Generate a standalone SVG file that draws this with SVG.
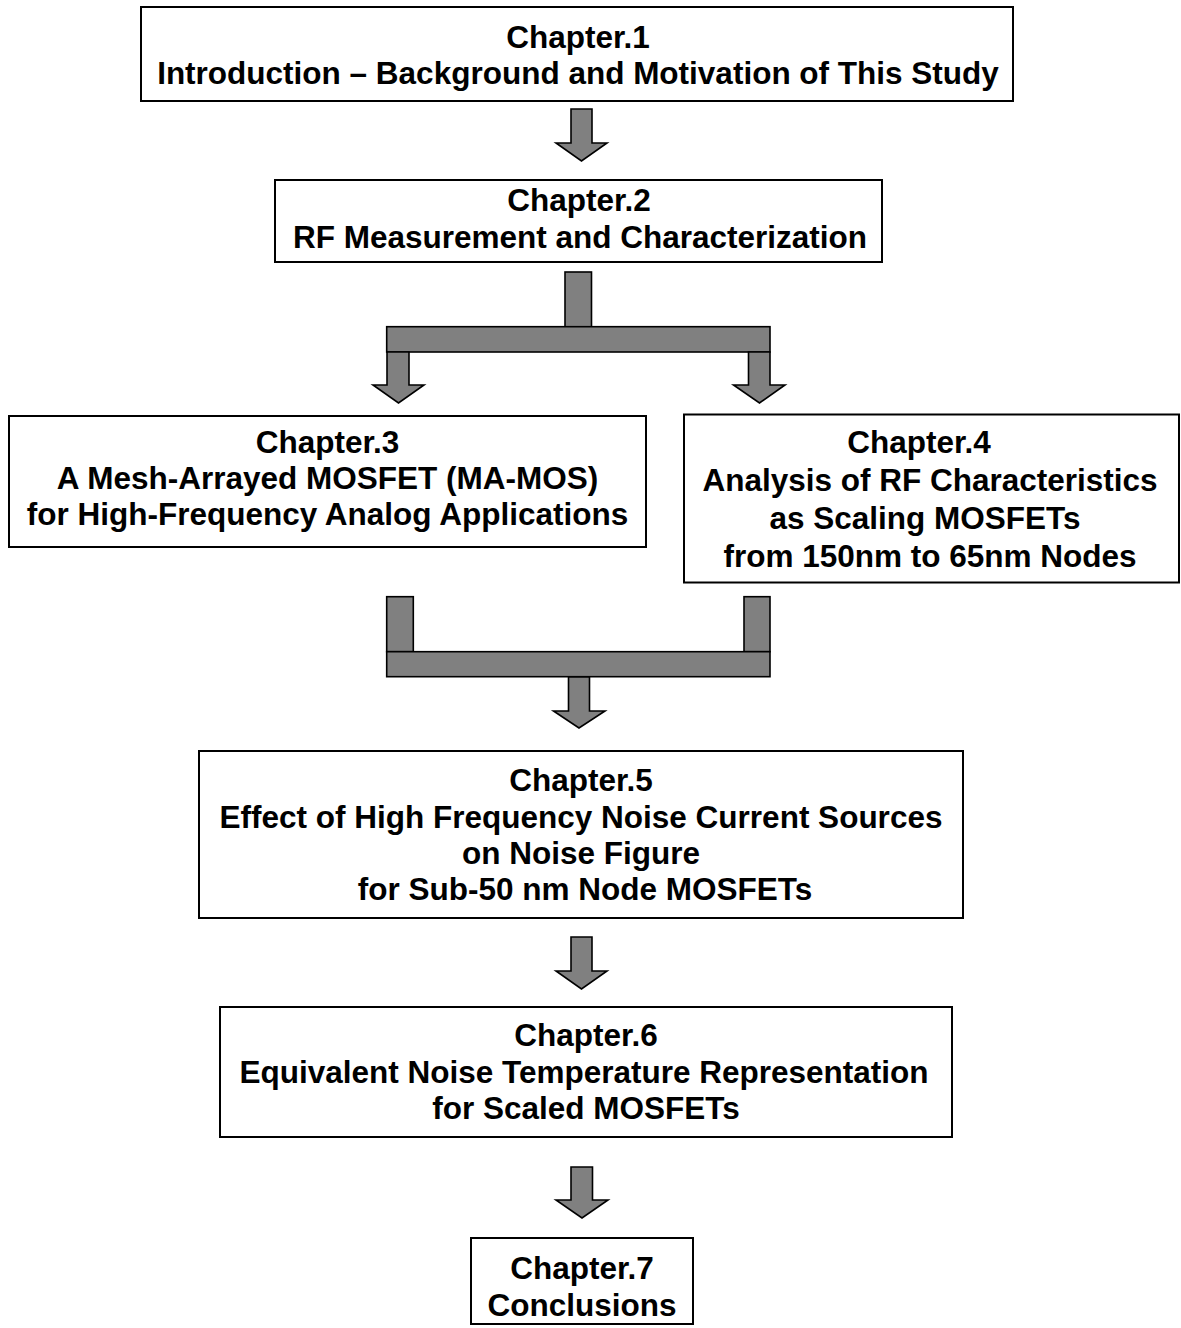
<svg xmlns="http://www.w3.org/2000/svg" width="1181" height="1328" viewBox="0 0 1181 1328">
<style>
.box{fill:#fff;stroke:#000;stroke-width:2}
.arr{fill:#808080;stroke:#000;stroke-width:1.6;stroke-linejoin:miter}
text{font-family:"Liberation Sans",Arial,sans-serif;font-weight:bold;font-size:31.5px;fill:#000;text-anchor:middle}
</style>
<rect width="1181" height="1328" fill="#fff"/>
<g id="connectors">
<polygon class="arr" points="571,109 592,109 592,143 607,143 581.5,161 556,143 571,143"/>
<rect class="arr" x="565" y="272" width="26.5" height="55"/>
<rect class="arr" x="386.7" y="326.7" width="383.3" height="25.3"/>
<polygon class="arr" points="387,352 409,352 409,385 424,385 398.5,403 373,385 387,385"/>
<polygon class="arr" points="748.5,352 770,352 770,385 785,385 759.5,403 733.5,385 748.5,385"/>
<rect class="arr" x="386.7" y="596.7" width="26.6" height="55"/>
<rect class="arr" x="744" y="596.7" width="26" height="55"/>
<rect class="arr" x="386.7" y="651.7" width="383.3" height="25"/>
<polygon class="arr" points="568.5,677 589.5,677 589.5,711 605,711 579,728 553.5,711 568.5,711"/>
<polygon class="arr" points="571,937 592,937 592,971 607,971 581.5,989 556,971 571,971"/>
<polygon class="arr" points="571,1167 592.5,1167 592.5,1200 608,1200 582,1218 556,1200 571,1200"/>
</g>
<g id="ch1">
<rect class="box" x="141" y="7" width="872" height="94"/>
<text x="578" y="48">Chapter.1</text>
<text x="578" y="84">Introduction – Background and Motivation of This Study</text>
</g>
<g id="ch2">
<rect class="box" x="275" y="180" width="607" height="82"/>
<text x="579" y="211">Chapter.2</text>
<text x="580" y="248">RF Measurement and Characterization</text>
</g>
<g id="ch3">
<rect class="box" x="9" y="416" width="637" height="131"/>
<text x="327.5" y="453">Chapter.3</text>
<text x="327.5" y="489">A Mesh-Arrayed MOSFET (MA-MOS)</text>
<text x="327.5" y="525">for High-Frequency Analog Applications</text>
</g>
<g id="ch4">
<rect class="box" x="684" y="414.5" width="495" height="168"/>
<text x="919" y="453">Chapter.4</text>
<text x="930" y="491">Analysis of RF Characteristics</text>
<text x="925" y="529">as Scaling MOSFETs</text>
<text x="930" y="567">from 150nm to 65nm Nodes</text>
</g>
<g id="ch5">
<rect class="box" x="199" y="751" width="764" height="167"/>
<text x="581" y="791">Chapter.5</text>
<text x="581" y="828">Effect of High Frequency Noise Current Sources</text>
<text x="581" y="864">on Noise Figure</text>
<text x="585" y="900">for Sub-50 nm Node MOSFETs</text>
</g>
<g id="ch6">
<rect class="box" x="220" y="1007" width="732" height="130"/>
<text x="586" y="1046">Chapter.6</text>
<text x="584" y="1083">Equivalent Noise Temperature Representation</text>
<text x="586" y="1119">for Scaled MOSFETs</text>
</g>
<g id="ch7">
<rect class="box" x="471" y="1238" width="222" height="86"/>
<text x="582" y="1279">Chapter.7</text>
<text x="582" y="1316">Conclusions</text>
</g>
</svg>
